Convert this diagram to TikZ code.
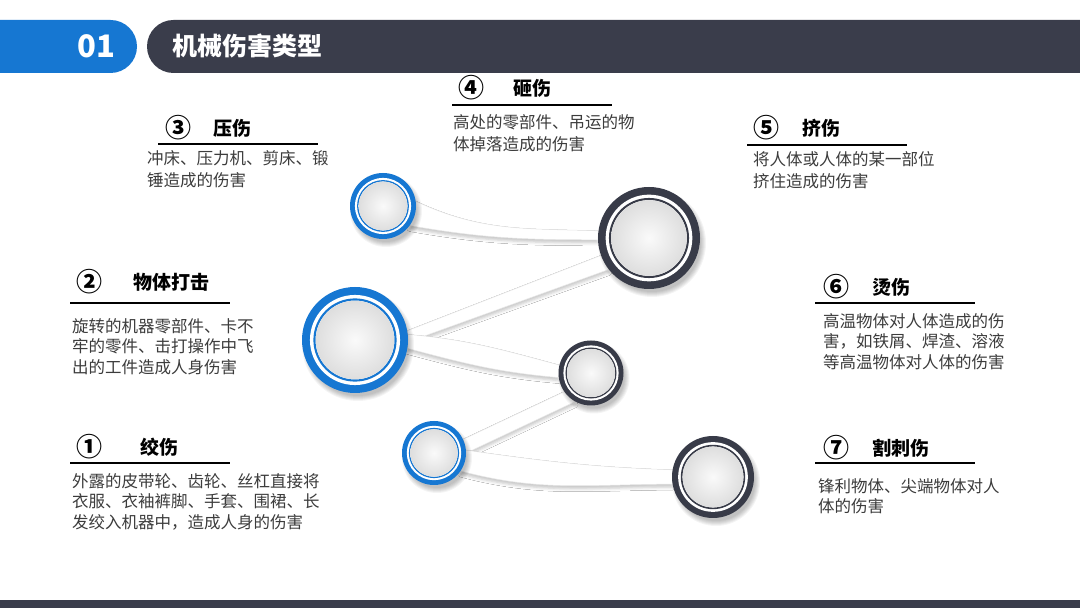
\documentclass[tikz,border=0pt]{standalone}
\usepackage{fontspec}
\newfontfamily\cjk{Noto Sans CJK SC}
\usetikzlibrary{shadows.blur}

\definecolor{blueC}{HTML}{1677D2}
\definecolor{darkC}{HTML}{383B48}
\definecolor{barC}{HTML}{3A3D4B}
\definecolor{textC}{HTML}{3C3C3C}

\pgfdeclarelayer{bg}
\pgfsetlayers{bg,main}

\begin{document}
\begin{tikzpicture}[x=1pt, y=1pt,
    ring/.style={circle, inner sep=0pt},
    band/.style={fill=white, draw=gray!18, line width=0.5pt, blur shadow={shadow xshift=0pt, shadow yshift=-3pt, shadow blur radius=3pt, shadow opacity=22}},
    num/.style={inner sep=0pt, font=\cjk\bfseries\fontsize{26}{26}\selectfont},
    head/.style={anchor=west, inner sep=0pt, font=\cjk\bfseries\fontsize{19}{19}\selectfont},
    body/.style={anchor=north west, align=left, inner sep=0pt, text=textC, font=\cjk\fontsize{16.5}{20.5}\selectfont},
    under/.style={line width=2.5pt}]

            \useasboundingbox (0,0) rectangle (1080,608);
            \begin{pgfonlayer}{bg}
                \fill[white] (0,0) rectangle (1080,608);
            \end{pgfonlayer}

% ---- Header bar ----
            \fill[blueC] (0,588) -- (110.5,588) arc (90:-90:26.5) -- (0,535) -- cycle;
            \fill[barC] (1080,588) -- (173.5,588) arc (90:270:26.5) -- (1080,535) -- cycle;
            \node[text=white, font=\cjk\bfseries\fontsize{31}{31}\selectfont] (secno) at (96,562) {01};
            \node[anchor=west, inner sep=0pt, text=white, font=\cjk\bfseries\fontsize{25}{25}\selectfont] (sectitle) at (172,562) {机械伤害类型};

% ---- Footer bar ----
            \fill[barC] (0,0) rectangle (1080,8);

% ---- Rings ----
            \foreach \n/\x/\y/\r/\col in {ringC/383/402/33/blueC, ringB/355/268/53/blueC, ringA/434/155/32/blueC,
                                          ringD/649/370/51/darkC, ringE/591/235/32.5/darkC, ringG/713/131/41/darkC} {
                % soft shadow
                \foreach \k in {0,...,5} {
                    \fill[black, opacity=0.045] (\x+3,\y-5) circle ({\r+3-\k});
                }
                \node[ring, minimum size={2*\r*1pt}, fill=\col] (\n) at (\x,\y) {};
                \fill[white] (\n) circle ({0.85*\r});
                \draw[\col, line width={0.04*\r}] (\n) circle ({0.765*\r});
                \shade[inner color=gray!4, outer color=gray!26] (\n) circle ({0.74*\r});
            }

% ---- Bands between rings ----
            \begin{pgfonlayer}{bg}
                \draw[band] (ringC.8) to[out=-25,in=178] (ringD.172) -- (ringD.182) to[out=180,in=-10] (ringC.-36) -- cycle;
                \draw[band] (ringB.10) -- (ringD.200) -- (ringD.218) -- (ringB.-2) -- cycle;
                \draw[band] (ringB.6) to[out=-5,in=165] (ringE.166) -- (ringE.188) to[out=175,in=-15] (ringB.-9) -- cycle;
                \draw[band] (ringA.25) -- (ringE.215) -- (ringE.241) -- (ringA.0) -- cycle;
                \draw[band] (ringA.5) to[out=-8,in=178] (ringG.170) -- (ringG.190) to[out=180,in=-15] (ringA.-34) -- cycle;
            \end{pgfonlayer}

% ---- Left texts ----
            \node[num] (num3) at (178,480) {③};
            \node[head] (head3) at (213,480) {压伤};
            \draw[under] (158,464) -- (318,464);
            \node[body, font=\cjk\fontsize{16.5}{22.5}\selectfont] (body3) at (147,458) {冲床、压力机、剪床、锻\\锤造成的伤害};

            \node[num] (num2) at (89,326) {②};
            \node[head] (head2) at (133,326) {物体打击};
            \draw[under] (70,305) -- (230,305);
            \node[body] (body2) at (72,290) {旋转的机器零部件、卡不\\牢的零件、击打操作中飞\\出的工件造成人身伤害};

            \node[num] (num1) at (89,161) {①};
            \node[head] (head1) at (140,161) {绞伤};
            \draw[under] (70,145) -- (230,145);
            \node[body] (body1) at (72,135) {外露的皮带轮、齿轮、丝杠直接将\\衣服、衣袖裤脚、手套、围裙、长\\发绞入机器中，造成人身的伤害};

% ---- Right texts ----
            \node[num] (num4) at (471,520) {④};
            \node[head] (head4) at (513,520) {砸伤};
            \draw[under] (452,503) -- (612,503);
            \node[body, font=\cjk\fontsize{16.5}{22.5}\selectfont] (body4) at (453,494) {高处的零部件、吊运的物\\体掉落造成的伤害};

            \node[num] (num5) at (766,480) {⑤};
            \node[head] (head5) at (802,480) {挤伤};
            \draw[under] (747,463) -- (907,463);
            \node[body, font=\cjk\fontsize{16.5}{22.5}\selectfont] (body5) at (753,457) {将人体或人体的某一部位\\挤住造成的伤害};

            \node[num] (num6) at (836,321) {⑥};
            \node[head] (head6) at (872,321) {烫伤};
            \draw[under] (815,305) -- (975,305);
            \node[body] (body6) at (823,295) {高温物体对人体造成的伤\\害，如铁屑、焊渣、溶液\\等高温物体对人体的伤害};

            \node[num] (num7) at (836,160) {⑦};
            \node[head] (head7) at (872,160) {割刺伤};
            \draw[under] (815,145) -- (975,145);
            \node[body] (body7) at (818,130) {锋利物体、尖端物体对人\\体的伤害};

        \end{tikzpicture}
\end{document}
